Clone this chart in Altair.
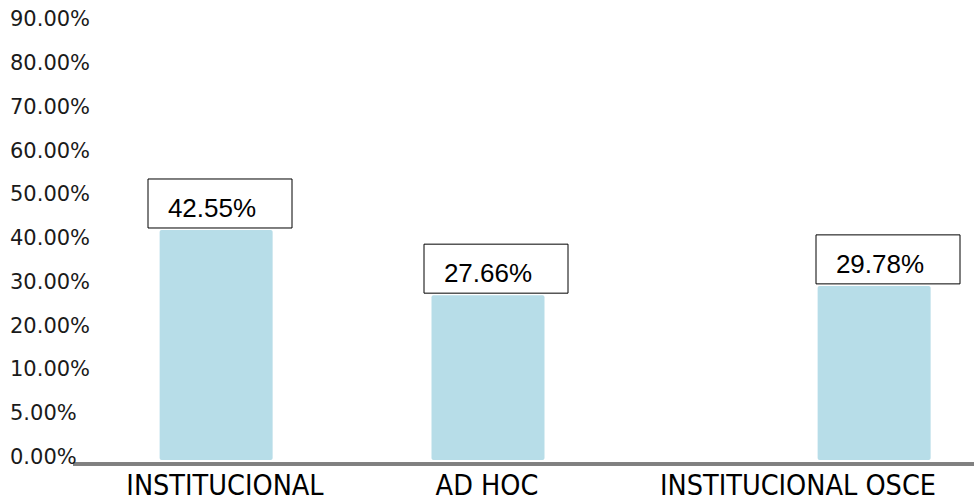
import altair as alt
import pandas as pd

categories = ["INSTITUCIONAL", "AD HOC", "INSTITUCIONAL OSCE"]
values = [0.4255, 0.2766, 0.2978]
labels = ["42.55%", "27.66%", "29.78%"]
tick_values = [0.0, 0.05, 0.10, 0.20, 0.30, 0.40, 0.50, 0.60, 0.70, 0.80, 0.90]

W, H = 974, 504

df = pd.DataFrame({
    "idx": list(range(len(categories))),
    "cat": categories,
    "value": values,
    "label": labels,
})
ticks = pd.DataFrame({"v": tick_values})

# piecewise y scale (evenly spaced gridlines, irregular values)
step = 43.77
y_range = [460 - step * k for k in range(len(tick_values))]
yscale = alt.Scale(domain=tick_values, range=y_range)

xscale_bars = alt.Scale(domain=[0, 1, 2], range=[212, 488, 880])
xscale_cats = alt.Scale(domain=[0, 1, 2], range=[225, 487, 798])

base = alt.Chart(df)

bars = base.mark_bar(color="#b7dde8", width=113, cornerRadius=2).encode(
    x=alt.X("idx:Q", scale=xscale_bars, axis=None),
    y=alt.Y("value:Q", scale=yscale, axis=None),
    y2=alt.Y2(datum=0),
)

boxes = base.mark_rect(
    fill="white", stroke="black", strokeWidth=1,
    xOffset=-64, x2Offset=80, yOffset=-51, y2Offset=-2,
).encode(
    x=alt.X("idx:Q", scale=xscale_bars, axis=None),
    x2="idx:Q",
    y=alt.Y("value:Q", scale=yscale, axis=None),
    y2="value:Q",
)

box_text = base.mark_text(
    font="Liberation Sans", fontSize=26, color="black",
    align="center", baseline="middle", dy=-21, dx=0,
).encode(
    x=alt.X("idx:Q", scale=xscale_bars, axis=None),
    y=alt.Y("value:Q", scale=yscale, axis=None),
    text="label:N",
)

cat_text = base.mark_text(
    font="Liberation Sans Narrow, DejaVu Sans Condensed, sans-serif",
    fontSize=28.5, color="black", align="center", baseline="alphabetic",
).encode(
    x=alt.X("idx:Q", scale=xscale_cats, axis=None),
    y=alt.value(495),
    text="cat:N",
)

tick_text = alt.Chart(ticks).mark_text(
    font="DejaVu Sans", fontSize=21, color="#1a1a1a",
    align="left", baseline="middle", dy=-2,
).encode(
    x=alt.value(10),
    y=alt.Y("v:Q", scale=yscale, axis=None),
    text=alt.Text("v:Q", format=".2%"),
)

axis_line = alt.Chart(df).mark_rule(color="#808080", strokeWidth=3.5, yOffset=4).encode(
    y=alt.Y(datum=0, type="quantitative", scale=yscale, axis=None),
    x=alt.value(73),
    x2=alt.value(974),
)

chart = alt.layer(
    bars, axis_line, boxes, box_text, tick_text, cat_text
).resolve_scale(x="independent").properties(
    width=W, height=H, padding=0, background="white",
    autosize=alt.AutoSizeParams(type="none"),
).configure_view(strokeWidth=0, stroke=None)

chart.save("out.html", embed_options={"renderer": "svg", "actions": False})
